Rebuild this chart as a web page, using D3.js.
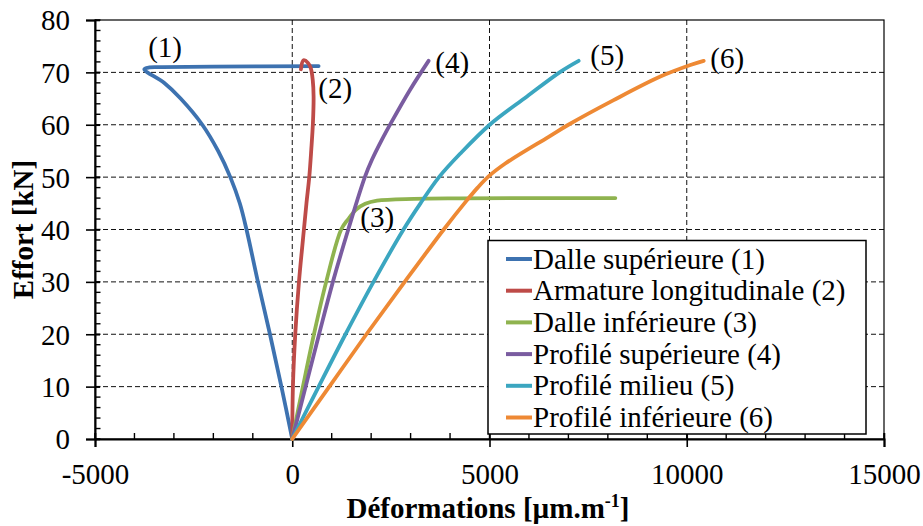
<!DOCTYPE html>
<html><head><meta charset="utf-8">
<script src="https://cdn.jsdelivr.net/npm/d3@7"></script>
<style>
html,body{margin:0;padding:0;background:#fff;}
svg{display:block;}
svg text{font-family:"Liberation Serif","Times New Roman",serif;}
</style></head>
<body><svg id="c" width="923" height="526"></svg>
<script>
const xTicks = [-5000, 0, 5000, 10000, 15000];
const yTicks = [0, 10, 20, 30, 40, 50, 60, 70, 80];
const seriesNames = ["Dalle supérieure (1)", "Armature longitudinale (2)", "Dalle inférieure (3)", "Profilé supérieure (4)", "Profilé milieu (5)", "Profilé inférieure (6)"];
const seriesLabels = ["(1)", "(2)", "(3)", "(4)", "(5)", "(6)"];
const colors = ["#3d72b0", "#be4b48", "#8fb34f", "#7a5ca0", "#3ba6c0", "#ee8934"];

const s1x = [0, -275, -565, -870, -1160, -1330, -1570, -1880, -2280, -2830, -3250, -3750, -3620, -3300, -2000, 668];
const s1y = [0, 10, 20, 30, 40, 45, 50, 55, 60, 65, 68, 70.6, 70.95, 71.0, 71.1, 71.2];
const s2x = [0, 17, 76, 170, 270, 360, 431, 482, 524, 541, 520, 470, 400, 287, 220];
const s2y = [0, 10, 20, 30, 38, 45, 50, 55.2, 60.3, 65.4, 68.5, 70.8, 71.8, 72.3, 70.6];
const s3x = [0, 270, 550, 860, 1240, 1420, 1620, 1850, 2150, 3080, 4260, 6000, 8190];
const s3y = [0, 10, 20, 30, 40, 42, 43.8, 44.9, 45.5, 45.85, 45.95, 46, 46];
const s4x = [0, 340, 680, 1030, 1420, 1840, 2020, 2270, 2500, 2980, 3456];
const s4y = [0, 10, 20, 30, 40, 50, 53.3, 57.1, 60.3, 66.6, 72.2];
const s5x = [0, 670, 1350, 2060, 2820, 3250, 3720, 4260, 5020, 5951, 6795, 7260];
const s5y = [0, 10, 20, 30, 40, 45, 50, 54.5, 60.1, 65.4, 70.1, 72.2];
const s6x = [0, 940, 1880, 2850, 3840, 4430, 4700, 4970, 5400, 6500, 7000, 8147, 9331, 10091, 10429];
const s6y = [0, 10, 20, 30, 40, 45.6, 48, 50.1, 52.6, 57.7, 60, 64.7, 69.2, 71.4, 72.2];
// label anchor points (data coords of label text start / baseline)
const labelX = [-3651, 659, 1724, 3626, 7556, 10598];
const labelY = [72.9, 65.1, 40.5, 70.1, 71.4, 70.8];

const seriesX = [s1x, s2x, s3x, s4x, s5x, s6x];
const seriesY = [s1y, s2y, s3y, s4y, s5y, s6y];

const svg = d3.select("#c");
const L = 95, R = 884, T = 20, B = 439;
const x = d3.scaleLinear().domain([-5000, 15000]).range([L, R]);
const y = d3.scaleLinear().domain([0, 80]).range([B, T]);
const FS = 29;
const FF = "Liberation Serif";

// gridlines
const g = svg.append("g");
yTicks.filter(v => v > 0 && v < 80).forEach(v => {
  g.append("line").attr("x1", L).attr("x2", R).attr("y1", y(v)).attr("y2", y(v))
    .attr("stroke", "#111").attr("stroke-width", 1).attr("stroke-dasharray", "5,3");
});
xTicks.filter(v => v > -5000 && v < 15000).forEach(v => {
  g.append("line").attr("x1", x(v)).attr("x2", x(v)).attr("y1", T).attr("y2", B)
    .attr("stroke", "#111").attr("stroke-width", 1).attr("stroke-dasharray", "5,3");
});

// frame
svg.append("rect").attr("x", L).attr("y", T).attr("width", R - L).attr("height", B - T)
  .attr("fill", "none").attr("stroke", "#000").attr("stroke-width", 1.2);

// axes
const yMinor = d3.range(0, 81, 2);
const xMinor = d3.range(-5000, 15001, 1000);
const fmt = d => String(d);
const axY = svg.append("g").attr("transform", `translate(${L},0)`)
  .call(d3.axisLeft(y).tickValues(yTicks).tickSize(9).tickFormat(fmt));
axY.attr("font-family", FF);
axY.select(".domain").attr("stroke-width", 2);
axY.selectAll(".tick line").attr("stroke-width", 1.6).attr("x2", -9).attr("x1", 5);
axY.selectAll(".tick text").attr("font-size", FS).attr("font-family", FF).attr("x", -25).attr("dy", "0.34em").attr("fill", "#000");
svg.append("g").selectAll("line").data(yMinor).join("line")
  .attr("x1", L).attr("x2", L + 5.5).attr("y1", d => y(d)).attr("y2", d => y(d))
  .attr("stroke", "#000").attr("stroke-width", 1.4);

const axX = svg.append("g").attr("transform", `translate(0,${B})`)
  .call(d3.axisBottom(x).tickValues(xTicks).tickSize(8).tickFormat(fmt));
axX.attr("font-family", FF);
axX.select(".domain").attr("stroke-width", 2);
axX.selectAll(".tick line").attr("stroke-width", 1.6).attr("y1", -6).attr("y2", 8);
axX.selectAll(".tick text").attr("font-size", FS).attr("font-family", FF).attr("y", 25).attr("dy", "0.68em").attr("fill", "#000");
svg.append("g").selectAll("line").data(xMinor).join("line")
  .attr("x1", d => x(d)).attr("x2", d => x(d)).attr("y1", B).attr("y2", B - 6)
  .attr("stroke", "#000").attr("stroke-width", 1.4);

// series
const line = d3.line().x(d => x(d[0])).y(d => y(d[1])).curve(d3.curveCatmullRom.alpha(0.5));
seriesX.forEach((xs, i) => {
  const pts = xs.map((v, j) => [v, seriesY[i][j]]);
  svg.append("path").datum(pts).attr("d", line).attr("fill", "none")
    .attr("stroke", colors[i]).attr("stroke-width", 3.8)
    .attr("stroke-linejoin", "round").attr("stroke-linecap", "round");
});

// curve labels
seriesLabels.forEach((t, i) => {
  svg.append("text").attr("x", x(labelX[i])).attr("y", y(labelY[i]))
    .attr("font-size", FS).attr("font-family", FF).attr("fill", "#000").text(t);
});

// legend
const lg = svg.append("g");
lg.append("rect").attr("x", 488).attr("y", 240.5).attr("width", 378).attr("height", 193.5)
  .attr("fill", "#fff").attr("stroke", "#000").attr("stroke-width", 1.5);
seriesNames.forEach((n, i) => {
  const cy = 259 + i * 31.7;
  lg.append("line").attr("x1", 506).attr("x2", 532).attr("y1", cy).attr("y2", cy)
    .attr("stroke", colors[i]).attr("stroke-width", 4);
  lg.append("text").attr("x", 533).attr("y", cy).attr("dy", "0.33em")
    .attr("font-size", FS).attr("font-family", FF).attr("fill", "#000").text(n);
});

// axis titles
const xt = svg.append("text").attr("x", 488).attr("y", 518).attr("text-anchor", "middle")
  .attr("font-size", FS).attr("font-family", FF).attr("font-weight", "bold").attr("fill", "#000");
xt.append("tspan").text("Déformations [µm.m");
xt.append("tspan").attr("font-size", FS * 0.62).attr("dy", -11).text("-1");
xt.append("tspan").attr("dy", 11).text("]");

svg.append("text").attr("transform", `translate(33,${(T + B) / 2}) rotate(-90)`)
  .attr("text-anchor", "middle").attr("font-size", FS).attr("font-family", FF).attr("font-weight", "bold")
  .attr("fill", "#000").text("Effort [kN]");
</script></body></html>
